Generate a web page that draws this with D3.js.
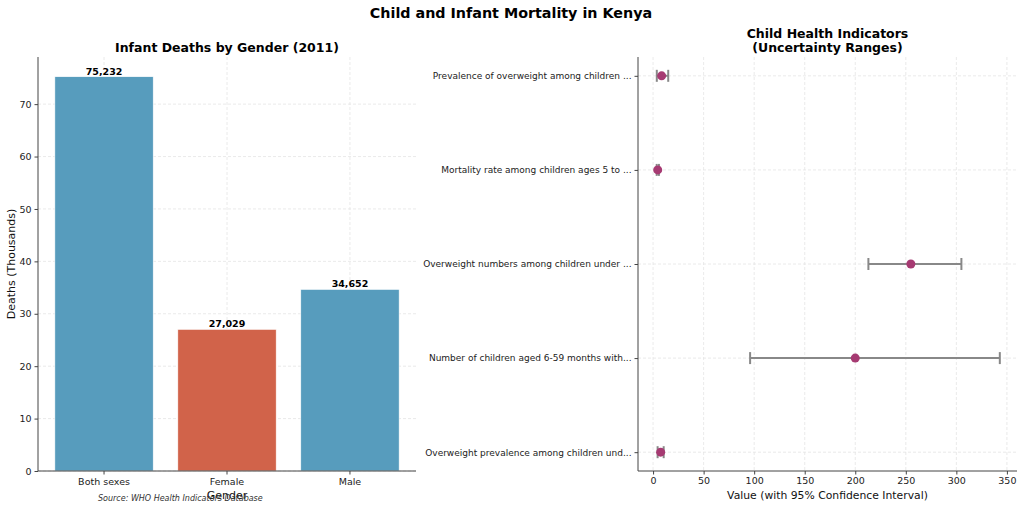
<!DOCTYPE html>
<html><head><meta charset="utf-8">
<script src="https://cdn.jsdelivr.net/npm/d3@7/dist/d3.min.js"></script>
<style>body{margin:0;background:#fff}svg{display:block;font-family:"DejaVu Sans",sans-serif}</style>
</head><body><svg id="c" width="1024" height="510"></svg>
<script>
// Left panel data
const genders = ["Both sexes", "Female", "Male"];
const deaths = [75232, 27029, 34652];
const genderColors = ["#579cbd", "#d1634a", "#579cbd"];
const yTicksLeft = [0, 10, 20, 30, 40, 50, 60, 70];

// Right panel data (top to bottom)
const indicators = [
  "Prevalence of overweight among children ...",
  "Mortality rate among children ages 5 to ...",
  "Overweight numbers among children under ...",
  "Number of children aged 6-59 months with...",
  "Overweight prevalence among children und..."
];
const values = [8.5, 4.6, 255, 200, 7.5];
const lowers = [3.7, 3.6, 213, 96, 4.5];
const uppers = [15, 5.8, 305, 343, 10.5];
const xTicksRight = [0, 50, 100, 150, 200, 250, 300, 350];

const svg = d3.select("#c");
const gridC = "#e4e4e4", spineC = "#444";

svg.append("text").attr("x", 511).attr("y", 18).attr("text-anchor", "middle")
  .attr("font-size", 14.3).attr("font-weight", "bold").text("Child and Infant Mortality in Kenya");

// ---------- Left panel ----------
const L = {l: 38, r: 416, t: 57, b: 471};
const x1 = d3.scaleBand().domain(genders).range([L.l, L.r]).paddingInner(0.2).paddingOuter(0.137);
const y1 = d3.scaleLinear().domain([0, 75.232 * 1.05]).range([L.b, L.t]);
const g1 = svg.append("g");

g1.selectAll(".hg").data(yTicksLeft).join("line")
  .attr("x1", L.l).attr("x2", L.r).attr("y1", d => y1(d)).attr("y2", d => y1(d))
  .attr("stroke", gridC).attr("stroke-dasharray", "3,2").attr("stroke-width", 0.8);
g1.selectAll(".vg").data(genders).join("line")
  .attr("x1", d => x1(d) + x1.bandwidth() / 2).attr("x2", d => x1(d) + x1.bandwidth() / 2)
  .attr("y1", L.t).attr("y2", L.b)
  .attr("stroke", gridC).attr("stroke-dasharray", "3,2").attr("stroke-width", 0.8);

g1.selectAll(".bar").data(genders).join("rect")
  .attr("x", d => x1(d)).attr("width", x1.bandwidth())
  .attr("y", (d, i) => y1(deaths[i] / 1000)).attr("height", (d, i) => L.b - y1(deaths[i] / 1000))
  .attr("fill", (d, i) => genderColors[i]).attr("stroke", "#fff").attr("stroke-width", 0.6);

g1.selectAll(".lbl").data(genders).join("text")
  .attr("x", d => x1(d) + x1.bandwidth() / 2).attr("y", (d, i) => y1(deaths[i] / 1000) - 2)
  .attr("text-anchor", "middle").attr("font-size", 9.5).attr("font-weight", "bold")
  .text((d, i) => d3.format(",")(deaths[i]));

const ya1 = g1.append("g").attr("transform", `translate(${L.l},0)`)
  .call(d3.axisLeft(y1).tickValues(yTicksLeft).tickSize(3.5).tickPadding(3));
const xa1 = g1.append("g").attr("transform", `translate(0,${L.b})`)
  .call(d3.axisBottom(x1).tickSize(3.5).tickPadding(4));
[ya1, xa1].forEach(a => {
  a.select(".domain").attr("stroke", spineC).attr("stroke-width", 1);
  a.selectAll(".tick line").attr("stroke", spineC);
  a.selectAll("text").attr("font-size", 9.5).attr("fill", "#222").attr("font-family", "DejaVu Sans");
});
ya1.select(".domain").attr("d", `M0,${L.b}V${L.t}`);
xa1.select(".domain").attr("d", `M${L.l},0H${L.r}`);

svg.append("text").attr("x", (L.l + L.r) / 2).attr("y", 52).attr("text-anchor", "middle")
  .attr("font-size", 12.5).attr("font-weight", "bold").text("Infant Deaths by Gender (2011)");
svg.append("text").attr("transform", `translate(15,${(L.t + L.b) / 2}) rotate(-90)`)
  .attr("text-anchor", "middle").attr("font-size", 11).attr("fill", "#111").text("Deaths (Thousands)");
svg.append("text").attr("x", (L.l + L.r) / 2).attr("y", 499).attr("text-anchor", "middle")
  .attr("font-size", 11).attr("fill", "#111").text("Gender");
svg.append("text").attr("x", 98).attr("y", 501).attr("font-size", 8).attr("font-style", "italic")
  .attr("fill", "#333").text("Source: WHO Health Indicators Database");

// ---------- Right panel ----------
const R = {l: 638, r: 1017, t: 57, b: 471};
const x2 = d3.scaleLinear().domain([-14.9, 360]).range([R.l, R.r]);
const y2 = d3.scalePoint().domain(indicators).range([R.t, R.b]).padding(0.2);
const g2 = svg.append("g");

g2.selectAll(".vg").data(xTicksRight).join("line")
  .attr("x1", d => x2(d)).attr("x2", d => x2(d)).attr("y1", R.t).attr("y2", R.b)
  .attr("stroke", gridC).attr("stroke-dasharray", "3,2").attr("stroke-width", 0.8);
g2.selectAll(".hg").data(indicators).join("line")
  .attr("x1", R.l).attr("x2", R.r).attr("y1", d => y2(d)).attr("y2", d => y2(d))
  .attr("stroke", gridC).attr("stroke-dasharray", "3,2").attr("stroke-width", 0.8);

const eb = g2.selectAll(".eb").data(indicators).join("g");
eb.append("line").attr("x1", (d, i) => x2(lowers[i])).attr("x2", (d, i) => x2(uppers[i]))
  .attr("y1", d => y2(d)).attr("y2", d => y2(d)).attr("stroke", "#888").attr("stroke-width", 2);
eb.append("line").attr("x1", (d, i) => x2(lowers[i])).attr("x2", (d, i) => x2(lowers[i]))
  .attr("y1", d => y2(d) - 6).attr("y2", d => y2(d) + 6).attr("stroke", "#888").attr("stroke-width", 2);
eb.append("line").attr("x1", (d, i) => x2(uppers[i])).attr("x2", (d, i) => x2(uppers[i]))
  .attr("y1", d => y2(d) - 6).attr("y2", d => y2(d) + 6).attr("stroke", "#888").attr("stroke-width", 2);
eb.append("circle").attr("cx", (d, i) => x2(values[i])).attr("cy", d => y2(d)).attr("r", 4.5)
  .attr("fill", "#a63a72");

const ya2 = g2.append("g").attr("transform", `translate(${R.l},0)`)
  .call(d3.axisLeft(y2).tickSize(3.5).tickPadding(3));
const xa2 = g2.append("g").attr("transform", `translate(0,${R.b})`)
  .call(d3.axisBottom(x2).tickValues(xTicksRight).tickSize(3.5).tickPadding(3));
[ya2, xa2].forEach(a => {
  a.select(".domain").attr("stroke", spineC).attr("stroke-width", 1);
  a.selectAll(".tick line").attr("stroke", spineC);
  a.selectAll("text").attr("font-size", 9).attr("fill", "#222").attr("font-family", "DejaVu Sans");
});
xa2.selectAll("text").attr("font-size", 9.5);
ya2.select(".domain").attr("d", `M0,${R.b}V${R.t}`);
xa2.select(".domain").attr("d", `M${R.l},0H${R.r}`);

const t2 = svg.append("text").attr("text-anchor", "middle").attr("font-size", 12.5).attr("font-weight", "bold");
t2.append("tspan").attr("x", (R.l + R.r) / 2).attr("y", 38).text("Child Health Indicators");
t2.append("tspan").attr("x", (R.l + R.r) / 2).attr("y", 52).text("(Uncertainty Ranges)");
svg.append("text").attr("x", (R.l + R.r) / 2).attr("y", 499).attr("text-anchor", "middle")
  .attr("font-size", 10.8).attr("fill", "#111").text("Value (with 95% Confidence Interval)");
</script></body></html>
